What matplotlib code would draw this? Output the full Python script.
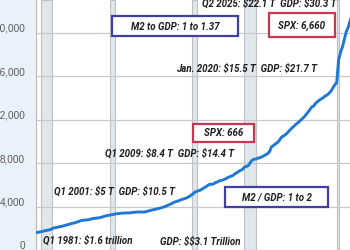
import matplotlib
matplotlib.use("Agg")
import matplotlib.pyplot as plt
import matplotlib.transforms as mtransforms
from matplotlib import font_manager
from matplotlib.patches import Rectangle

# ---- data (M2 money stock, billions of dollars, quarterly) ----
years = [1980.75 + 0.25 * i for i in range(166)]
m2 = [
    1580,
    1610, 1640, 1680, 1730,
    1770, 1800, 1840, 1890,
    1990, 2040, 2080, 2110,
    2150, 2190, 2230, 2290,
    2340, 2380, 2440, 2480,
    2520, 2580, 2650, 2710,
    2740, 2750, 2770, 2800,
    2850, 2890, 2910, 2940,
    2960, 2990, 3050, 3100,
    3150, 3180, 3220, 3240,
    3280, 3330, 3340, 3360,
    3390, 3390, 3410, 3420,
    3410, 3440, 3460, 3480,
    3490, 3500, 3500, 3490,
    3500, 3540, 3600, 3640,
    3690, 3730, 3760, 3810,
    3850, 3900, 3960, 4030,
    4110, 4190, 4260, 4370,
    4430, 4490, 4550, 4630,
    4680, 4740, 4810, 4900,
    5020, 5140, 5300, 5390,
    5450, 5510, 5610, 5740,
    5820, 5960, 6060, 6040,
    6100, 6220, 6260, 6380,
    6410, 6460, 6540, 6640,
    6720, 6790, 6860, 7010,
    7110, 7230, 7330, 7430,
    7630, 7700, 7760, 8050,
    8260, 8360, 8370, 8450,
    8490, 8570, 8650, 8770,
    8860, 9050, 9480, 9610,
    9750, 9870, 10040, 10340,
    10460, 10580, 10720, 10920,
    11100, 11280, 11440, 11600,
    11740, 11900, 12070, 12240,
    12440, 12680, 12900, 13160,
    13250, 13490, 13650, 13790,
    13900, 14020, 14170, 14260,
    14420, 14620, 14920, 15200,
    15400, 17500, 18200, 18700,
    19400, 20100, 20500, 21100,
    21600,
]
years = years[:len(m2)]

rec_start = [1981.5, 1990.5, 2001.2, 2007.92, 2020.1]
rec_end = [1982.87, 1991.2, 2001.87, 2009.5, 2020.3]

yticks = [0, 4000, 8000, 12000, 16000, 20000]
ytick_labels = ["0", "4,000", "8,000", "12,000", "16,000", "20,000"]

plain_notes = [
    "Q2 2025: $22.1 T  GDP: $30.3 T",
    "Jan. 2020: $15.5 T  GDP: $21.7 T",
    "Q1 2009: $8.4 T  GDP: $14.4 T",
    "Q1 2001: $5 T  GDP: $10.5 T",
    "Q1 1981: $1.6 trillion",
    "GDP: $$3.1 Trillion",
]
blue_boxes = ["M2 to GDP: 1 to 1.37", "M2 / GDP: 1 to 2"]
red_boxes = ["SPX: 6,660", "SPX: 666"]

# ---- font choice: first family that has a bold italic face ----
cands = [("Liberation Sans Narrow", 7.7), ("Roboto", 7.0), ("Liberation Sans", 6.8),
         ("Open Sans", 6.5), ("DejaVu Sans", 6.3)]
bi_family, bi_size = "DejaVu Sans", 6.3
have = {(f.name, f.style, f.weight) for f in font_manager.fontManager.ttflist}
for name, size in cands:
    ok = any(n == name and s in ("italic", "oblique") and
             (w == "bold" or (isinstance(w, int) and w >= 600))
             for (n, s, w) in have)
    if ok:
        bi_family, bi_size = name, size
        break

# ---- figure ----
W, H = 350, 250
fig = plt.figure(figsize=(W / 100, H / 100), dpi=100)
fig.patch.set_facecolor("#eaf1f9")
ax = fig.add_axes([36 / W, 0, 1 - 36 / W, 1])
ax.set_facecolor("white")

ax.set_xlim(1980.85, 2021.73)
ax.set_ylim(273, 23000)

for s, e in zip(rec_start, rec_end):
    ax.axvspan(s, e, facecolor="#e1e6ea", edgecolor="#bcc1c6", lw=0.8, zorder=1)

ax.plot(years, m2, color="#1f78d4", lw=2.1, zorder=3, solid_joinstyle="round")

ax.set_yticks(yticks)
ax.set_yticklabels(ytick_labels)
ax.set_xticks([])
ax.grid(axis="y", color="#c9c9c9", lw=0.9, zorder=0)
ax.tick_params(axis="y", length=0, pad=8, labelsize=7.2, labelcolor="#595959")
for lab in ax.get_yticklabels():
    lab.set_fontfamily(["Liberation Sans", "DejaVu Sans"])
    lab.set_transform(lab.get_transform() + mtransforms.ScaledTranslation(0, 5 / 100, fig.dpi_scale_trans))
for sp in ["top", "right", "bottom"]:
    ax.spines[sp].set_visible(False)
ax.spines["left"].set_color("#bdbdbd")
ax.spines["left"].set_linewidth(0.9)

tk = dict(fontsize=bi_size, fontweight="bold", fontstyle="italic", color="#1e1e1e",
          family=[bi_family, "DejaVu Sans"], parse_math=False)


def px(x, y):
    return x / W, 1 - y / H


# plain annotations: (left x, center y)
plain_pos = [(202, 3), (176, 69), (105, 153), (54, 191), (43, 240), (160, 242)]
for t, (x, y) in zip(plain_notes, plain_pos):
    fig.text(*px(x, y), t, ha="left", va="center", **tk)

# boxed annotations: (left, top, right, bottom) in pixels
blue_rects = [(112, 16, 238, 36), (225, 187, 328, 207)]
red_rects = [(269, 13, 335, 37), (193, 124, 254, 142)]
for texts, rects, ec in ((blue_boxes, blue_rects, "#3f3fa6"), (red_boxes, red_rects, "#c8374f")):
    for t, (l, tp, r, b) in zip(texts, rects):
        fig.patches.append(Rectangle((l / W, 1 - b / H), (r - l) / W, (b - tp) / H,
                                     transform=fig.transFigure, fc="white", ec=ec,
                                     lw=1.6, zorder=5))
        fig.text(*px((l + r) / 2, (tp + b) / 2 + 0.5), t, ha="center", va="center",
                 zorder=6, **tk)

fig.savefig("out.png", dpi=100)
